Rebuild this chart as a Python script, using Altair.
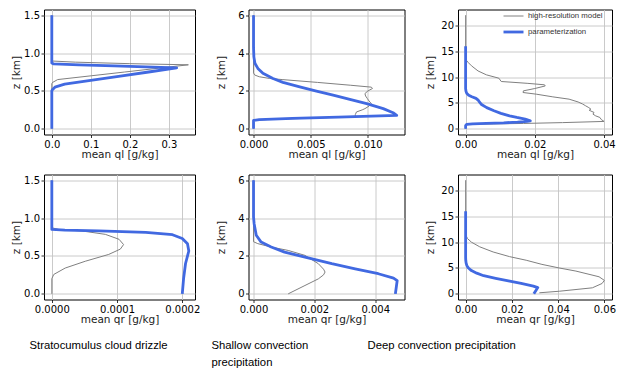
import altair as alt
import pandas as pd

SERIES = ["high-resolution model", "parameterization"]
COLORS = ["#808080", "#4169e1"]

# ---- Stratocumulus, mean ql ----
p1_hr_z = [0, 0.60, 0.615, 0.65, 0.70, 0.75, 0.80, 0.845, 0.86, 0.88, 0.895, 1.5]
p1_hr_v = [0, 0, 0.003, 0.015, 0.101, 0.187, 0.273, 0.35, 0.20, 0.06, 0, 0]
p1_par_z = [0, 0.50, 0.52, 0.55, 0.59, 0.65, 0.70, 0.75, 0.804, 0.83, 0.845, 0.857, 0.87, 1.5]
p1_par_v = [0, 0, 0.002, 0.008, 0.033, 0.113, 0.18, 0.248, 0.32, 0.16, 0.07, 0.005, 0, 0]

# ---- Shallow convection, mean ql ----
p2_hr_z = [0, 0.45, 0.50, 0.58, 0.66, 0.75, 0.89, 1.0, 1.065, 1.2, 1.33, 1.47, 1.6, 1.73, 1.86,
           2.0, 2.13, 2.2, 2.3, 2.45, 2.6, 2.66, 2.75, 2.84, 2.95, 6.0]
p2_hr_v = [0, 0, 0.0015, 0.006, 0.0089, 0.0089, 0.0090, 0.0095, 0.00974, 0.0101, 0.0103, 0.0101,
           0.00995, 0.0098, 0.00974, 0.0100, 0.0104, 0.0103, 0.0085, 0.0056, 0.0025, 0.0014,
           0.0005, 0.0001, 0, 0]
p2_par_z = [0, 0.44, 0.49, 0.55, 0.62, 0.71, 0.85, 1.065, 1.33, 1.56, 1.78, 1.99, 2.22, 2.45,
            2.66, 2.93, 3.19, 3.46, 3.8, 4.3, 6.0]
p2_par_v = [0, 0, 0.0005, 0.0034, 0.0074, 0.01252, 0.0122, 0.01134, 0.00989, 0.00842, 0.00696,
            0.0055, 0.00404, 0.00257, 0.0017, 0.00082, 0.00038, 0.00012, 0.00003, 0, 0]

# ---- Deep convection, mean ql ----
p3_hr_z = [0, 0.85, 0.95, 1.04, 1.2, 1.43, 1.8, 2.2, 2.5, 2.85, 3.17, 3.6, 3.81, 4.1, 4.45, 4.8,
           5.2, 5.74, 6.19, 6.71, 7.03, 7.35, 7.8, 8.3, 8.52, 8.8, 9.16, 9.8, 10.45, 11.2, 12.2,
           12.8, 13.2, 13.5, 22]
p3_hr_v = [0, 0, 0.008, 0.0167, 0.028, 0.040, 0.0392, 0.0388, 0.0376, 0.0368, 0.0371, 0.0357,
           0.0362, 0.0356, 0.0347, 0.0338, 0.0325, 0.0299, 0.0252, 0.0204, 0.0166, 0.0167,
           0.020, 0.023, 0.0228, 0.018, 0.0103, 0.0096, 0.006, 0.0036, 0.0017, 0.0008, 0.0003,
           0, 0]
p3_par_z = [0, 0.6, 0.85, 0.95, 1.05, 1.15, 1.3, 1.45, 1.55, 1.9, 2.2, 2.5, 3.0, 3.5, 4.1, 4.7,
            5.1, 5.5, 5.9, 6.2, 6.5, 6.9, 7.3, 7.8, 16]
p3_par_v = [0, 0, 0.0003, 0.002, 0.006, 0.011, 0.015, 0.0178, 0.0187, 0.0172, 0.0148, 0.0127,
            0.0102, 0.0082, 0.0061, 0.0046, 0.0041, 0.0037, 0.0030, 0.0018, 0.0009, 0.0003,
            0.0001, 0, 0]

# ---- Stratocumulus, mean qr ----
p4_hr_z = [0, 0.2, 0.256, 0.34, 0.43, 0.52, 0.59, 0.65, 0.72, 0.785, 0.83, 0.85, 0.87, 0.88, 1.5]
p4_hr_v = [0, 0, 0.000003, 0.0000205, 0.0000513, 0.0000872, 0.000105, 0.00011, 0.000103,
           0.000082, 0.000046, 0.00001, 0.000001, 0, 0]
p4_par_z = [0, 0.2, 0.4, 0.565, 0.66, 0.73, 0.78, 0.81, 0.83, 0.84, 0.85, 1.5]
p4_par_v = [0.0002, 0.000202, 0.000205, 0.00021, 0.000208, 0.0002, 0.000185, 0.000144,
            0.0000718, 0.00002, 0, 0]

# ---- Shallow convection, mean qr ----
p5_hr_z = [0, 0.44, 0.79, 1.0, 1.15, 1.3, 1.59, 2.03, 2.29, 2.47, 2.65, 2.75, 6.0]
p5_hr_v = [0.00114, 0.00169, 0.00213, 0.0023, 0.00235, 0.0023, 0.00213, 0.00169, 0.00114,
           0.00058, 0.00014, 0, 0]
p5_par_z = [0, 0.35, 0.7, 0.83, 1.06, 1.32, 1.59, 1.94, 2.2, 2.47, 2.73, 3.09, 3.7, 4.06, 6.0]
p5_par_v = [0.00466, 0.00469, 0.00472, 0.0046, 0.0041, 0.00334, 0.00257, 0.00169, 0.00102,
            0.00058, 0.00025, 0.00009, 0.00002, 0, 0]

# ---- Deep convection, mean qr ----
p6_hr_z = [0.2, 0.5, 1.16, 2.0, 2.6, 3.3, 4.4, 5.0, 5.7, 6.5, 7.2, 8.1, 9.1, 10.0, 10.7, 11.3, 11.8, 22]
p6_hr_v = [0.0319, 0.0405, 0.0548, 0.059, 0.060, 0.0577, 0.0477, 0.0405, 0.033, 0.0262, 0.019,
           0.0119, 0.0061, 0.0025, 0.0008, 0.0002, 0, 0]
p6_par_z = [0, 0.5, 1.2, 1.5, 2.0, 2.5, 3.0, 3.5, 4.0, 4.5, 5.0, 5.5, 6.0, 6.5, 7.0, 16]
p6_par_v = [0.0295, 0.0302, 0.0312, 0.0293, 0.024, 0.0185, 0.013, 0.0078, 0.0048, 0.0025,
            0.0012, 0.0005, 0.0002, 0.00005, 0, 0]

WIDTHS = [151, 156, 154]
HEIGHT = 125


def panel(hr_z, hr_v, par_z, par_v, xdom, xticks, xfmt, ydom, yticks, yfmt, xtitle, width,
          legend=False, caption=None, caption_dx=0):
    rows = []
    for i, (z, v) in enumerate(zip(hr_z, hr_v)):
        rows.append({"s": SERIES[0], "z": z, "v": v, "i": i})
    for i, (z, v) in enumerate(zip(par_z, par_v)):
        rows.append({"s": SERIES[1], "z": z, "v": v, "i": i})
    df = pd.DataFrame(rows)
    if legend:
        leg = alt.Legend(title=None, orient="none", legendX=44, legendY=-4,
                         symbolType="stroke", symbolSize=400, symbolStrokeWidth=3,
                         labelFont="Liberation Sans", labelFontSize=7.8, labelColor="#333333",
                         labelOffset=3, rowPadding=-12, padding=0)
    else:
        leg = None
    ch = alt.Chart(df).mark_line(strokeJoin="round").encode(
        x=alt.X("v:Q", scale=alt.Scale(domain=xdom, nice=False, zero=False),
                axis=alt.Axis(values=xticks, format=xfmt, title=xtitle)),
        y=alt.Y("z:Q", scale=alt.Scale(domain=ydom, nice=False, zero=False),
                axis=alt.Axis(values=yticks, format=yfmt, title="z [km]")),
        color=alt.Color("s:N", scale=alt.Scale(domain=SERIES, range=COLORS), legend=leg),
        strokeWidth=alt.StrokeWidth("s:N", scale=alt.Scale(domain=SERIES, range=[1, 2.8]), legend=None),
        order=alt.Order("i:Q"),
    ).properties(width=width, height=HEIGHT)
    if caption is not None:
        ch = ch.properties(title=alt.TitleParams(text=caption, orient="bottom", anchor="start",
                                                 frame="group", dx=caption_dx, offset=15,
                                                 lineHeight=17))
    return ch


p1 = panel(p1_hr_z, p1_hr_v, p1_par_z, p1_par_v, [-0.02, 0.367], [0, 0.1, 0.2, 0.3], ".1f",
           [-0.075, 1.575], [0, 0.5, 1.0, 1.5], ".1f", "mean ql [g/kg]", WIDTHS[0])
p2 = panel(p2_hr_z, p2_hr_v, p2_par_z, p2_par_v, [-0.00044, 0.0132], [0, 0.005, 0.010], ".3f",
           [-0.3, 6.3], [0, 2, 4, 6], "d", "mean ql [g/kg]", WIDTHS[1])
p3 = panel(p3_hr_z, p3_hr_v, p3_par_z, p3_par_v, [-0.0022, 0.0423], [0, 0.02, 0.04], ".2f",
           [-1.1, 23.1], [0, 5, 10, 15, 20], "d", "mean ql [g/kg]", WIDTHS[2], legend=True)
p4 = panel(p4_hr_z, p4_hr_v, p4_par_z, p4_par_v, [-0.000012, 0.0002195], [0, 0.0001, 0.0002], ".4f",
           [-0.075, 1.575], [0, 0.5, 1.0, 1.5], ".1f", "mean qr [g/kg]", WIDTHS[0],
           caption="Stratocumulus cloud drizzle", caption_dx=-14.5)
p5 = panel(p5_hr_z, p5_hr_v, p5_par_z, p5_par_v, [-0.000165, 0.00496], [0, 0.002, 0.004], ".3f",
           [-0.3, 6.3], [0, 2, 4, 6], "d", "mean qr [g/kg]", WIDTHS[1],
           caption=["Shallow convection", "precipitation"], caption_dx=-37)
p6 = panel(p6_hr_z, p6_hr_v, p6_par_z, p6_par_v, [-0.0033, 0.0633], [0, 0.02, 0.04, 0.06], ".2f",
           [-1.1, 23.1], [0, 5, 10, 15, 20], "d", "mean qr [g/kg]", WIDTHS[2],
           caption="Deep convection precipitation", caption_dx=-90.5)

chart = alt.concat(p1, p2, p3, p4, p5, p6, columns=3, bounds="flush",
                   spacing=alt.RowColnumber(row=40, column=53.5)).resolve_scale(
    color="independent", strokeWidth="independent", x="independent", y="independent"
).resolve_legend(color="independent").properties(
    padding={"left": 3, "top": -3.5, "right": 5, "bottom": 5}
).configure_view(
    stroke="black", strokeWidth=1
).configure_axis(
    grid=True, gridColor="#c4c4c4", gridWidth=0.9, domain=False, ticks=True,
    tickColor="black", tickSize=3, tickWidth=0.8,
    labelFont="DejaVu Sans", labelFontSize=10, labelColor="black", labelPadding=1.5,
    labelFlush=False, labelOverlap=False,
    titleFont="DejaVu Sans", titleFontSize=10.5, titleFontWeight="normal", titleColor="#222222"
).configure_axisY(
    minExtent=19.5, maxExtent=19.5, titlePadding=3
).configure_axisX(
    titlePadding=0
).configure_title(
    font="Liberation Sans", fontSize=11.3, fontWeight="normal", color="black"
)

chart.save("out.html", embed_options={"renderer": "svg", "actions": False})
